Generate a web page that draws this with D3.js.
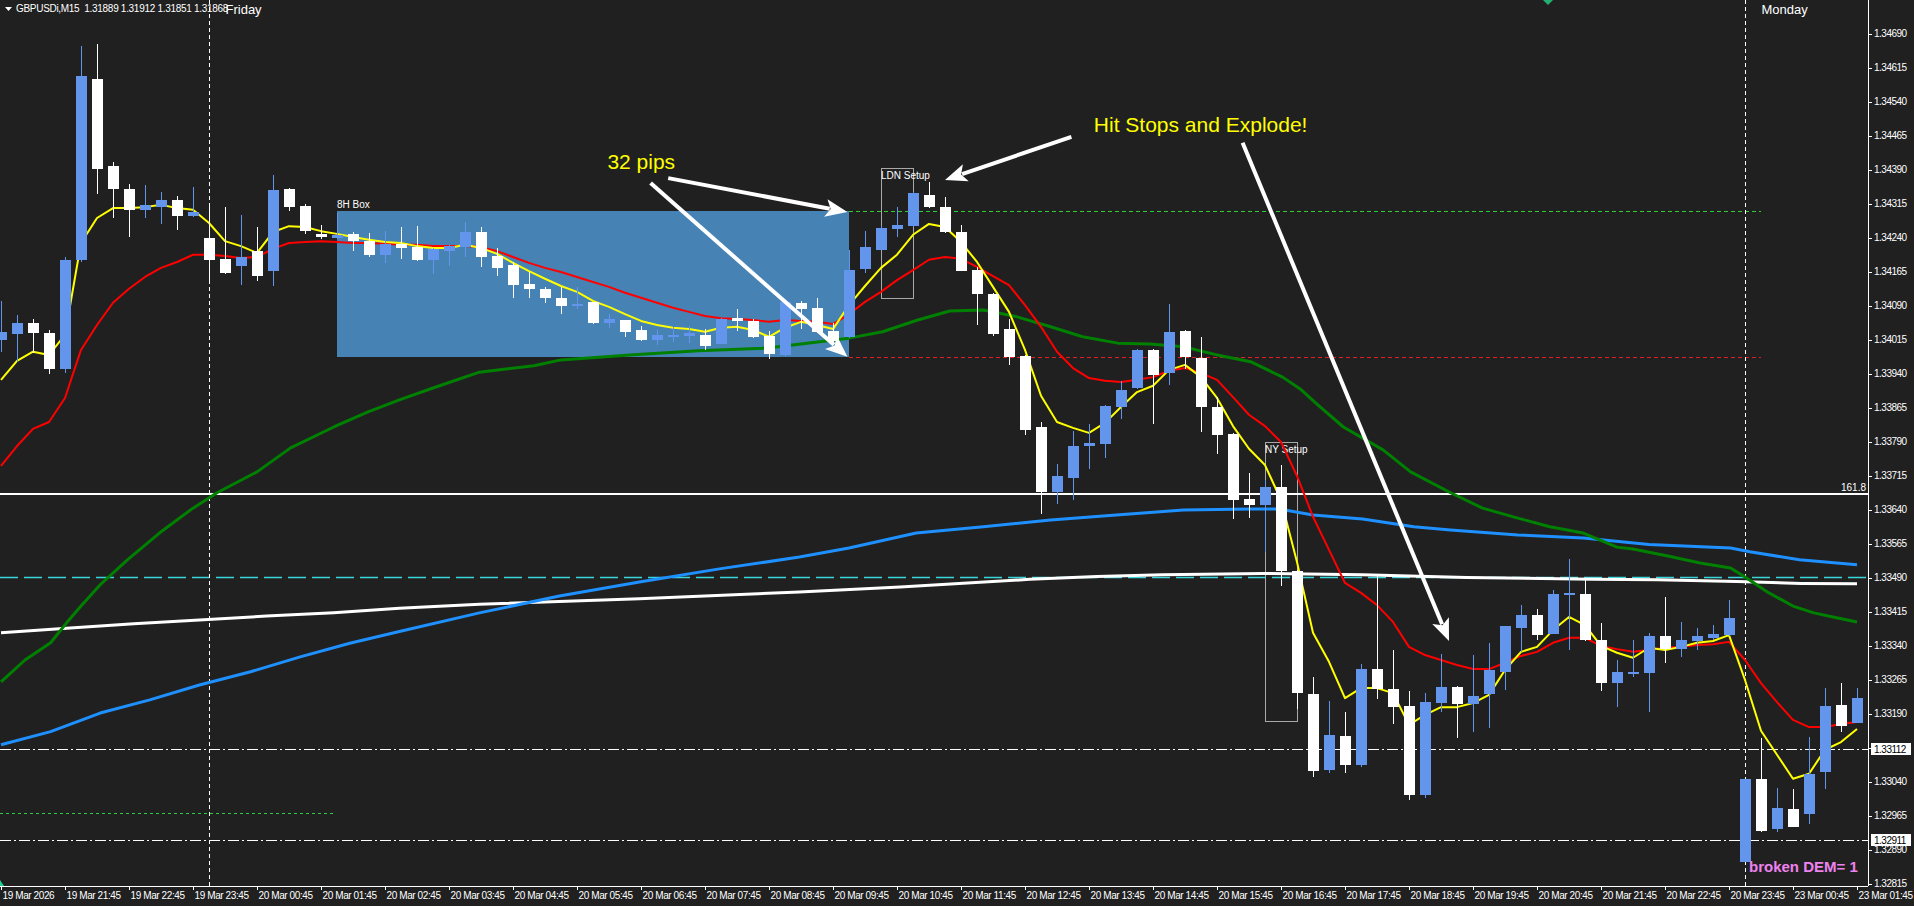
<!DOCTYPE html>
<html>
<head>
<meta charset="utf-8">
<title>GBPUSDi,M15</title>
<script src="https://cdn.jsdelivr.net/npm/d3@7"></script>
<style>
  html, body { margin: 0; padding: 0; background: #202020; overflow: hidden; }
  svg { display: block; }
  text { font-family: "Liberation Sans", Arial, sans-serif; }
</style>
</head>
<body>
<svg id="chart" width="1914" height="906"></svg>
<script>
// ---- M15 bars, 19 Mar 20:45 -> 23 Mar 01:45 (bar index 0..116) ----
const opens = [
1.34014,1.34028,1.34052,1.34029,1.33951,1.34191,1.34590,1.34398,1.34347,1.34301,
1.34308,1.34323,1.34288,1.34239,1.34193,1.34178,1.34210,1.34167,1.34347,1.34310,
1.34248,1.34238,1.34248,1.34233,1.34202,1.34226,1.34220,1.34191,1.34211,1.34220,
1.34252,1.34199,1.34179,1.34138,1.34126,1.34107,1.34091,1.34097,1.34052,1.34058,
1.34035,1.34013,1.34020,1.34022,1.34025,1.34006,1.34062,1.34056,1.34022,1.33980,
1.34095,1.34085,1.34033,1.34021,1.34170,1.34213,1.34258,1.34265,1.34334,1.34307,
1.34252,1.34168,1.34116,1.34038,1.33979,1.33823,1.33679,1.33710,1.33780,1.33785,
1.33867,1.33907,1.33992,1.33942,1.34034,1.33974,1.33867,1.33807,1.33663,1.33650,
1.33690,1.33504,1.33233,1.33066,1.33141,1.33077,1.33288,1.33244,1.33207,1.33010,
1.33214,1.33248,1.33212,1.33232,1.33282,1.33379,1.33407,1.33366,1.33452,1.33454,
1.33352,1.33258,1.33280,1.33280,1.33361,1.33332,1.33349,1.33357,1.33364,1.32863,
1.33046,1.32935,1.32979,1.32968,1.33060,1.33209,1.33170];
const highs = [
1.34100,1.34068,1.34061,1.34036,1.34196,1.34663,1.34667,1.34407,1.34358,1.34356,
1.34340,1.34332,1.34351,1.34316,1.34307,1.34290,1.34263,1.34378,1.34349,1.34314,
1.34268,1.34295,1.34252,1.34250,1.34255,1.34263,1.34266,1.34217,1.34224,1.34274,
1.34264,1.34216,1.34186,1.34163,1.34130,1.34131,1.34130,1.34098,1.34072,1.34058,
1.34045,1.34035,1.34043,1.34044,1.34039,1.34062,1.34083,1.34060,1.34034,1.34098,
1.34100,1.34107,1.34052,1.34212,1.34254,1.34265,1.34307,1.34340,1.34362,1.34330,
1.34268,1.34174,1.34118,1.34060,1.33981,1.33834,1.33741,1.33813,1.33829,1.33871,
1.33924,1.33994,1.33994,1.34093,1.34036,1.34020,1.33889,1.33809,1.33721,1.33706,
1.33738,1.33507,1.33271,1.33218,1.33193,1.33299,1.33498,1.33330,1.33240,1.33235,
1.33321,1.33251,1.33318,1.33346,1.33383,1.33429,1.33420,1.33462,1.33531,1.33485,
1.33390,1.33308,1.33352,1.33368,1.33446,1.33392,1.33379,1.33385,1.33441,1.33046,
1.33135,1.33026,1.33024,1.33138,1.33247,1.33258,1.33247];
const lows = [
1.33988,1.33966,1.33985,1.33938,1.33941,1.34186,1.34337,1.34282,1.34240,1.34284,
1.34270,1.34257,1.34286,1.34147,1.34160,1.34136,1.34143,1.34134,1.34299,1.34248,
1.34237,1.34237,1.34211,1.34198,1.34184,1.34193,1.34188,1.34160,1.34178,1.34198,
1.34175,1.34156,1.34106,1.34106,1.34095,1.34072,1.34083,1.34049,1.34041,1.34021,
1.34012,1.34003,1.34009,1.34008,1.33991,1.34004,1.34034,1.34018,1.33971,1.33979,
1.34039,1.34029,1.34010,1.34019,1.34162,1.34212,1.34240,1.34263,1.34304,1.34250,
1.34165,1.34048,1.34022,1.33958,1.33804,1.33630,1.33652,1.33660,1.33729,1.33753,
1.33840,1.33906,1.33829,1.33915,1.33951,1.33811,1.33763,1.33618,1.33621,1.33547,
1.33472,1.33201,1.33051,1.33058,1.33058,1.33073,1.33223,1.33166,1.32999,1.33004,
1.33194,1.33137,1.33150,1.33157,1.33242,1.33326,1.33352,1.33366,1.33329,1.33350,
1.33240,1.33205,1.33270,1.33194,1.33302,1.33315,1.33329,1.33352,1.33360,1.32863,
1.32929,1.32929,1.32940,1.32946,1.33024,1.33150,1.33169];
const closes = [
1.34032,1.34052,1.34030,1.33949,1.34191,1.34596,1.34392,1.34348,1.34301,1.34312,
1.34323,1.34288,1.34297,1.34191,1.34162,1.34197,1.34154,1.34345,1.34308,1.34254,
1.34242,1.34245,1.34232,1.34202,1.34225,1.34216,1.34190,1.34214,1.34222,1.34252,
1.34198,1.34173,1.34136,1.34127,1.34106,1.34088,1.34094,1.34052,1.34061,1.34031,
1.34013,1.34024,1.34024,1.34030,1.34000,1.34060,1.34056,1.34020,1.33984,1.34097,
1.34083,1.34031,1.34011,1.34168,1.34218,1.34261,1.34268,1.34338,1.34308,1.34253,
1.34167,1.34116,1.34028,1.33977,1.33816,1.33679,1.33714,1.33780,1.33787,1.33868,
1.33904,1.33992,1.33937,1.34032,1.33976,1.33867,1.33804,1.33661,1.33650,1.33690,
1.33504,1.33236,1.33064,1.33143,1.33077,1.33288,1.33244,1.33205,1.33010,1.33215,
1.33248,1.33212,1.33229,1.33287,1.33382,1.33407,1.33363,1.33454,1.33455,1.33352,
1.33258,1.33282,1.33282,1.33361,1.33332,1.33352,1.33361,1.33366,1.33401,1.33046,
1.32931,1.32982,1.32940,1.33057,1.33207,1.33163,1.33224];

// ---- moving averages (one value per bar) ----
const maFast = [
1.33926,1.33968,1.33988,1.33981,1.34025,1.34228,1.34283,1.34305,1.34305,1.34307,
1.34312,1.34305,1.34301,1.34272,1.34232,1.34221,1.34206,1.34252,1.34265,1.34263,
1.34254,1.34248,1.34241,1.34235,1.34230,1.34228,1.34221,1.34217,1.34217,1.34224,
1.34217,1.34204,1.34184,1.34166,1.34149,1.34133,1.34120,1.34100,1.34087,1.34071,
1.34056,1.34047,1.34041,1.34038,1.34032,1.34041,1.34043,1.34036,1.34021,1.34041,
1.34054,1.34047,1.34038,1.34091,1.34133,1.34173,1.34202,1.34246,1.34270,1.34263,
1.34230,1.34186,1.34131,1.34076,1.33992,1.33891,1.33833,1.33820,1.33809,1.33831,
1.33866,1.33899,1.33913,1.33948,1.33959,1.33932,1.33886,1.33824,1.33774,1.33738,
1.33661,1.33524,1.33368,1.33304,1.33224,1.33246,1.33246,1.33235,1.33165,1.33187,
1.33204,1.33204,1.33213,1.33231,1.33286,1.33326,1.33337,1.33374,1.33403,1.33385,
1.33339,1.33324,1.33313,1.33335,1.33330,1.33337,1.33346,1.33350,1.33363,1.33264,
1.33152,1.33099,1.33046,1.33057,1.33110,1.33127,1.33156];
const maMid = [
1.33736,1.33780,1.33818,1.33833,1.33886,1.33992,1.34047,1.34096,1.34127,1.34153,
1.34173,1.34186,1.34202,1.34202,1.34199,1.34195,1.34197,1.34215,1.34228,1.34230,
1.34232,1.34230,1.34228,1.34228,1.34226,1.34224,1.34224,1.34221,1.34221,1.34221,
1.34219,1.34210,1.34197,1.34184,1.34173,1.34164,1.34153,1.34142,1.34131,1.34118,
1.34107,1.34096,1.34085,1.34076,1.34067,1.34062,1.34060,1.34058,1.34054,1.34058,
1.34056,1.34054,1.34049,1.34071,1.34098,1.34120,1.34146,1.34168,1.34191,1.34197,
1.34193,1.34175,1.34155,1.34135,1.34091,1.34043,1.33988,1.33952,1.33930,1.33924,
1.33921,1.33926,1.33932,1.33946,1.33952,1.33941,1.33926,1.33888,1.33849,1.33824,
1.33789,1.33714,1.33624,1.33551,1.33478,1.33456,1.33429,1.33392,1.33337,1.33319,
1.33308,1.33297,1.33288,1.33288,1.33302,1.33317,1.33326,1.33346,1.33357,1.33357,
1.33339,1.33332,1.33326,1.33330,1.33335,1.33337,1.33341,1.33343,1.33348,1.33308,
1.33257,1.33215,1.33176,1.33160,1.33160,1.33167,1.33171];

// ---- slow moving averages, [bar index, price] ----
const maSlow = [
[0,1.33260],[1.5,1.33308],[3.1,1.33346],[4.1,1.33390],[5,1.33427],[6.2,1.33474],[7.9,1.33529],
[9.9,1.33588],[12,1.33643],[13.5,1.33677],[16,1.33723],[18.1,1.33776],[20.8,1.33822],[22.9,1.33855],
[24.9,1.33882],[27,1.33908],[29.9,1.33943],[33.3,1.33957],[35,1.33970],[39.3,1.33981],[43.6,1.33990],
[47.9,1.33996],[53,1.34018],[55.1,1.34032],[57.3,1.34058],[59.3,1.34078],[61.4,1.34080],[63.5,1.34065],
[65.6,1.34043],[67.6,1.34021],[69.8,1.34007],[71.8,1.34005],[73.9,1.33999],[76,1.33981],[78.1,1.33966],
[80.1,1.33932],[81.2,1.33906],[82.3,1.33871],[83.9,1.33822],[86.4,1.33771],[88.1,1.33723],[90.6,1.33677],
[92.6,1.33643],[94.8,1.33621],[96.8,1.33602],[98.9,1.33588],[101,1.33557],[102,1.33553],[104.1,1.33538],
[106.2,1.33522],[108.1,1.33511],[109.1,1.33489],[110.4,1.33458],[112,1.33427],[113.3,1.33412],
[114.5,1.33403],[116,1.33392]];
const maLong = [
[0,1.33121],[3.1,1.33150],[6.2,1.33191],[9.3,1.33220],[12.4,1.33253],[15.6,1.33282],[18.7,1.33315],
[21.8,1.33345],[24.9,1.33371],[29.9,1.33412],[34.9,1.33449],[39.9,1.33480],[44.9,1.33509],[49.9,1.33535],
[53,1.33555],[57.2,1.33588],[61.4,1.33602],[65.6,1.33617],[69.7,1.33628],[73.9,1.33639],[78.1,1.33641],
[79.9,1.33641],[82,1.33628],[85.1,1.33619],[88.3,1.33602],[90.6,1.33595],[94.8,1.33584],[98.9,1.33577],
[103,1.33563],[108.1,1.33555],[109.3,1.33547],[112.4,1.33529],[116,1.33518]];
const maBase = [
[0,1.33368],[4.1,1.33378],[8.3,1.33388],[12.4,1.33396],[16.6,1.33405],[20.8,1.33412],[24.9,1.33422],
[29.9,1.33431],[39.9,1.33443],[49.9,1.33458],[56.2,1.33469],[64.3,1.33486],[68.5,1.33492],[72.6,1.33496],
[78.9,1.33499],[85.1,1.33496],[91.6,1.33490],[99.5,1.33486],[103.5,1.33485],[108.5,1.33481],
[112.5,1.33477],[116,1.33476]];

// ---- levels and drawn objects ----
const boxBars = [21, 53];
const boxPrices = [1.34298, 1.33977];
const ldnBars = [55, 57], ldnPrices = [1.34393, 1.34106];
const nyBars = [79, 81], nyPrices = [1.33788, 1.33173];
const fibLevel = 1.33674;
const pivotLevel = 1.33490;
const dashDotLevels = [1.33112, 1.32911];
const lowDotLevel = 1.32970, lowDotEnd = 20.8;
const projLevels = [1.34298, 1.33977], projBars = [53, 110];
const separatorBars = [13, 109];
const separatorNames = ["Friday", "Monday"];

// ---- axis ticks ----
const priceTicks = [1.34690,1.34615,1.34540,1.34465,1.34390,1.34315,1.34240,1.34165,1.34090,1.34015,
  1.33940,1.33865,1.33790,1.33715,1.33640,1.33565,1.33490,1.33415,1.33340,1.33265,1.33190,1.33115,
  1.33040,1.32965,1.32890,1.32815];
const timeTickBars = [0,4,8,12,16,20,24,28,32,36,40,44,48,52,56,60,64,68,72,76,80,84,88,92,96,100,104,108,112,116];
const timeTickLabels = ["19 Mar 2026","19 Mar 21:45","19 Mar 22:45","19 Mar 23:45",
  "20 Mar 00:45","20 Mar 01:45","20 Mar 02:45","20 Mar 03:45","20 Mar 04:45","20 Mar 05:45",
  "20 Mar 06:45","20 Mar 07:45","20 Mar 08:45","20 Mar 09:45","20 Mar 10:45","20 Mar 11:45",
  "20 Mar 12:45","20 Mar 13:45","20 Mar 14:45","20 Mar 15:45","20 Mar 16:45","20 Mar 17:45",
  "20 Mar 18:45","20 Mar 19:45","20 Mar 20:45","20 Mar 21:45","20 Mar 22:45","20 Mar 23:45",
  "23 Mar 00:45","23 Mar 01:45"];

// ---- annotations ----
const arrows = [
  {from: [41.7, 1.34371], to: [52.9, 1.34296]},
  {from: [40.6, 1.34360], to: [52.9, 1.33977]},
  {from: [66.9, 1.34462], to: [59.0, 1.34367]},
  {from: [77.6, 1.34449], to: [90.5, 1.33350]}
];
const notes = [
  {text: "32 pips", at: [37.9, 1.34407]},
  {text: "Hit Stops and Explode!", at: [68.3, 1.34489]}
];

// ================= drawing =================
const W = 1914, H = 906, plotR = 1868, plotB = 886;
const svg = d3.select("#chart");
const x = d3.scaleLinear().domain([0, 116]).range([1, 1857]);
const y = d3.scaleLinear().domain([1.32815, 1.34690]).range([883.5, 33.5]);
const bull = "#6495ED", bear = "#FFFFFF";

svg.append("rect").attr("width", W).attr("height", H).attr("fill", "#202020");
svg.append("defs").append("clipPath").attr("id", "plot")
  .append("rect").attr("width", plotR).attr("height", plotB);
const plot = svg.append("g").attr("clip-path", "url(#plot)");

// range box
plot.append("rect")
  .attr("x", x(boxBars[0])).attr("y", y(boxPrices[0]))
  .attr("width", x(boxBars[1]) - x(boxBars[0]))
  .attr("height", y(boxPrices[1]) - y(boxPrices[0]))
  .attr("fill", "#4682B4").attr("shape-rendering", "crispEdges");
plot.append("text").attr("x", x(boxBars[0])).attr("y", y(boxPrices[0]) - 3)
  .attr("fill", "#fff").attr("font-size", 10).text("8H Box");

// session setup frames
[[ldnBars, ldnPrices, "LDN Setup"], [nyBars, nyPrices, "NY Setup"]].forEach(([b, p, t]) => {
  plot.append("rect")
    .attr("x", Math.round(x(b[0])) + 0.5).attr("y", Math.round(y(p[0])) + 0.5)
    .attr("width", Math.round(x(b[1]) - x(b[0]))).attr("height", Math.round(y(p[1]) - y(p[0])))
    .attr("fill", "none").attr("stroke", "#a8a8a8").attr("stroke-width", 1);
  plot.append("text").attr("x", x(b[0])).attr("y", y(p[0]) + 11)
    .attr("fill", "#fff").attr("font-size", 10).text(t);
});

// horizontal levels
function hline(p, x1, x2, color, width, dash) {
  const yy = Math.round(y(p)) + (width % 2 ? 0.5 : 0);
  plot.append("line").attr("x1", x1).attr("x2", x2).attr("y1", yy).attr("y2", yy)
    .attr("stroke", color).attr("stroke-width", width)
    .attr("stroke-dasharray", dash || null);
}
hline(lowDotLevel, 0, x(lowDotEnd), "#2ecc40", 1, "3,3");
hline(pivotLevel, 0, plotR, "#3ad6dc", 1.5, "18,6");
hline(fibLevel, 0, plotR, "#ffffff", 2);
dashDotLevels.forEach(p => hline(p, 0, plotR, "#ffffff", 1, "11,3,2,3"));
hline(projLevels[0], x(projBars[0]), x(projBars[1]), "#32cd32", 1, "4,3");
hline(projLevels[1], x(projBars[0]), x(projBars[1]), "#e02020", 1, "4,3");
plot.append("text").attr("x", plotR - 2).attr("y", y(fibLevel) - 3)
  .attr("text-anchor", "end").attr("fill", "#fff").attr("font-size", 10).text("161.8");

// day separators
separatorBars.forEach((b, i) => {
  const xx = Math.round(x(b)) + 0.5;
  plot.append("line").attr("x1", xx).attr("x2", xx).attr("y1", 0).attr("y2", plotB)
    .attr("stroke", "#fff").attr("stroke-width", 1).attr("stroke-dasharray", "4,3");
  svg.append("text").attr("x", xx + 16).attr("y", 14)
    .attr("fill", "#fff").attr("font-size", 13).text(separatorNames[i]);
});

// moving averages
const line = d3.line().x(d => x(d[0])).y(d => y(d[1]));
const maStyle = [
  [maBase, "#ffffff", 3],
  [maLong, "#1E90FF", 3],
  [maSlow, "#008000", 3],
  [maMid.map((v, i) => [i, v]), "#ff0000", 2],
  [maFast.map((v, i) => [i, v]), "#ffff00", 2]
];
maStyle.forEach(([d, c, w]) => {
  plot.append("path").attr("d", line(d)).attr("fill", "none")
    .attr("stroke", c).attr("stroke-width", w).attr("stroke-linejoin", "round");
});

// candles
const bars = opens.map((o, i) => ({i, o, h: highs[i], l: lows[i], c: closes[i]}));
const cg = plot.append("g").attr("shape-rendering", "crispEdges");
cg.selectAll("rect.wick").data(bars).join("rect").attr("class", "wick")
  .attr("x", d => Math.round(x(d.i))).attr("width", 1)
  .attr("y", d => Math.round(y(d.h)))
  .attr("height", d => Math.max(1, Math.round(y(d.l)) - Math.round(y(d.h))))
  .attr("fill", d => d.c >= d.o ? bull : bear);
cg.selectAll("rect.body").data(bars).join("rect").attr("class", "body")
  .attr("x", d => Math.round(x(d.i)) - 5).attr("width", 11)
  .attr("y", d => Math.round(y(Math.max(d.o, d.c))))
  .attr("height", d => Math.max(2, Math.round(y(Math.min(d.o, d.c))) - Math.round(y(Math.max(d.o, d.c)))))
  .attr("fill", d => d.c >= d.o ? bull : bear);

// arrows and notes
const ag = svg.append("g");
arrows.forEach(a => {
  const x1 = x(a.from[0]), y1 = y(a.from[1]), x2 = x(a.to[0]), y2 = y(a.to[1]);
  const dx = x2 - x1, dy = y2 - y1, len = Math.hypot(dx, dy), ux = dx / len, uy = dy / len;
  const hl = 22, hw = 9, bx = x2 - ux * hl, by = y2 - uy * hl;
  ag.append("line").attr("x1", x1).attr("y1", y1).attr("x2", bx + ux * 4).attr("y2", by + uy * 4)
    .attr("stroke", "#fff").attr("stroke-width", 4);
  ag.append("path")
    .attr("d", `M${x2},${y2}L${bx - uy * hw},${by + ux * hw}L${bx + ux * 5},${by + uy * 5}L${bx + uy * hw},${by - ux * hw}Z`)
    .attr("fill", "#fff");
});
notes.forEach(n => {
  ag.append("text").attr("x", x(n.at[0])).attr("y", y(n.at[1]))
    .attr("dominant-baseline", "central").attr("fill", "#ffff00").attr("font-size", 21).text(n.text);
});

// price axis
const yAxis = d3.axisRight(y).tickValues(priceTicks).tickFormat(d3.format(".5f")).tickSize(4).tickPadding(2);
svg.append("g").attr("transform", `translate(${plotR},0)`).call(yAxis)
  .attr("font-family", "Liberation Sans, Arial, sans-serif").attr("font-size", 10)
  .call(g => g.select(".domain").remove())
  .call(g => g.selectAll("line").attr("stroke", "#fff").attr("shape-rendering", "crispEdges"))
  .call(g => g.selectAll("text").attr("fill", "#fff").attr("letter-spacing", "-0.5px"));
svg.append("line").attr("x1", plotR + 0.5).attr("x2", plotR + 0.5).attr("y1", 0).attr("y2", plotB)
  .attr("stroke", "#fff").attr("stroke-width", 1);

// highlighted price labels
dashDotLevels.forEach(p => {
  const yy = Math.round(y(p));
  svg.append("rect").attr("x", plotR + 3).attr("y", yy - 6).attr("width", 40).attr("height", 12).attr("fill", "#fff");
  svg.append("text").attr("x", plotR + 6).attr("y", yy).attr("dominant-baseline", "central")
    .attr("fill", "#000").attr("font-size", 10).attr("letter-spacing", "-0.5px").text(d3.format(".5f")(p));
});

// time axis
const xAxis = d3.axisBottom(x).tickValues(timeTickBars).tickFormat((d, i) => timeTickLabels[i]).tickSize(4).tickPadding(2);
svg.append("g").attr("transform", `translate(0,${plotB})`).call(xAxis)
  .attr("font-family", "Liberation Sans, Arial, sans-serif").attr("font-size", 10)
  .call(g => g.select(".domain").remove())
  .call(g => g.selectAll("line").attr("stroke", "#fff").attr("shape-rendering", "crispEdges"))
  .call(g => g.selectAll("text").attr("fill", "#fff").attr("text-anchor", "start").attr("x", 1).attr("letter-spacing", "-0.4px"));
svg.append("line").attr("x1", 0).attr("x2", plotR).attr("y1", plotB + 0.5).attr("y2", plotB + 0.5)
  .attr("stroke", "#fff").attr("stroke-width", 1);

// header
svg.append("path").attr("d", "M5,7L12,7L8.5,11Z").attr("fill", "#fff");
svg.append("text").attr("x", 16).attr("y", 12).attr("fill", "#fff").attr("font-size", 10)
  .attr("letter-spacing", "-0.3px").attr("xml:space", "preserve")
  .text("GBPUSDi,M15  1.31889 1.31912 1.31851 1.31868");

// scroll markers
svg.append("path").attr("d", "M1543,0L1553,0L1548,5Z").attr("fill", "#20b070");
svg.append("path").attr("d", "M0,880L4,886L0,886Z").attr("fill", "#20d090");

// indicator status
svg.append("text").attr("x", 1749).attr("y", 872).attr("fill", "#EE82EE")
  .attr("font-size", 15).attr("font-weight", "bold").text("broken DEM= 1");
</script>
</body>
</html>
